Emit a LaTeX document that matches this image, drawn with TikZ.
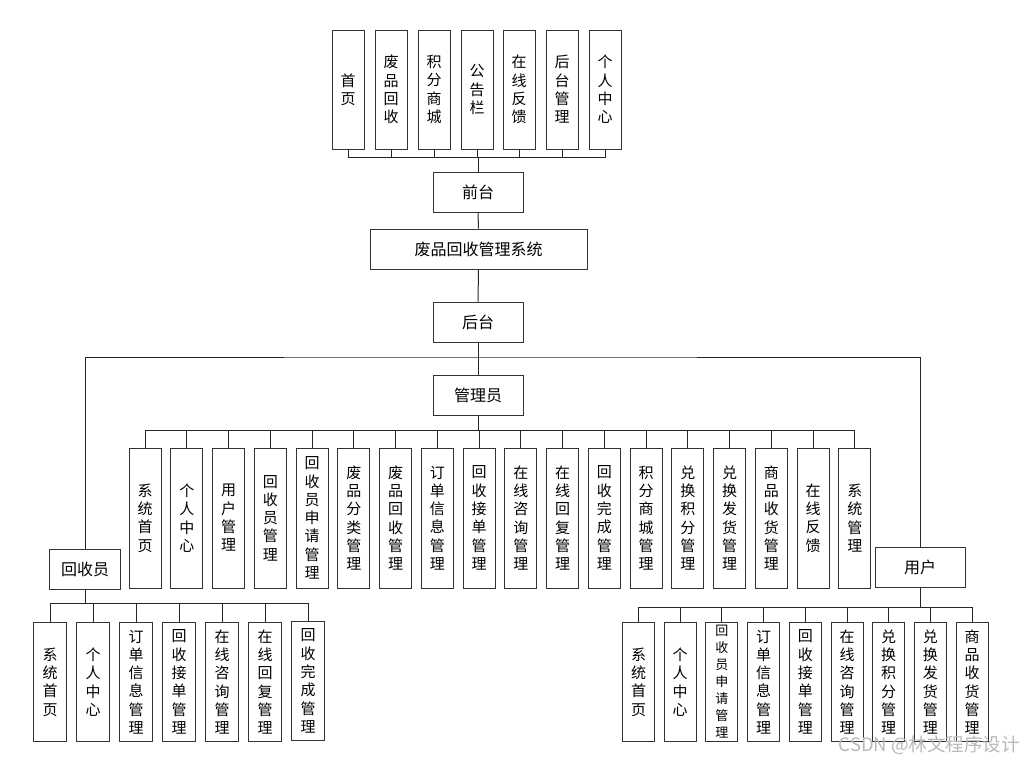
\documentclass[tikz,border=0pt]{standalone}
\usepackage{fontspec}
\newfontfamily\cjk{Noto Sans CJK SC}
\usepackage{tikz}

\begin{document}
\begin{tikzpicture}[
    x=1pt, y=-1pt,
    box/.style={draw=black!80, line width=1pt, align=center, inner sep=0pt, font=\cjk\fontsize{15}{18.3}\selectfont},
    hbox/.style={box, minimum width=90pt, minimum height=40pt, font=\cjk\fontsize{16}{18}\selectfont},
    vbox/.style={box, minimum width=32pt, minimum height=119pt},
    tallbox/.style={box, minimum width=32pt, minimum height=140pt},
    link/.style={black!85, line width=1pt}
]
\useasboundingbox (0,0) rectangle (1025,763);

% front end
\node[vbox] (f1) at (348,89.5) {首\\页};
\node[vbox] (f2) at (391,89.5) {废\\品\\回\\收};
\node[vbox] (f3) at (434,89.5) {积\\分\\商\\城};
\node[vbox] (f4) at (477,89.5) {公\\告\\栏};
\node[vbox] (f5) at (519,89.5) {在\\线\\反\\馈};
\node[vbox] (f6) at (562,89.5) {后\\台\\管\\理};
\node[vbox] (f7) at (605,89.5) {个\\人\\中\\心};
\node[hbox] (qt) at (478,192) {前台};
\node[hbox, minimum width=217pt] (sys) at (478.5,249) {废品回收管理系统};
\node[hbox] (ht) at (478,322) {后台};
\node[hbox] (gly) at (478,395) {管理员};
\node[hbox, minimum width=71pt] (hsy) at (85,569) {回收员};
\node[hbox] (yh) at (920,567) {用户};

% admin
\node[tallbox] (a1) at (145,518) {系\\统\\首\\页};
\node[tallbox] (a2) at (186.8,518) {个\\人\\中\\心};
\node[tallbox] (a3) at (228.5,518) {用\\户\\管\\理};
\node[tallbox] (a4) at (270.3,518) {回\\收\\员\\管\\理};
\node[tallbox] (a5) at (312,518) {回\\收\\员\\申\\请\\管\\理};
\node[tallbox] (a6) at (353.8,518) {废\\品\\分\\类\\管\\理};
\node[tallbox] (a7) at (395.6,518) {废\\品\\回\\收\\管\\理};
\node[tallbox] (a8) at (437.3,518) {订\\单\\信\\息\\管\\理};
\node[tallbox] (a9) at (479.1,518) {回\\收\\接\\单\\管\\理};
\node[tallbox] (a10) at (520.8,518) {在\\线\\咨\\询\\管\\理};
\node[tallbox] (a11) at (562.6,518) {在\\线\\回\\复\\管\\理};
\node[tallbox] (a12) at (604.4,518) {回\\收\\完\\成\\管\\理};
\node[tallbox] (a13) at (646.1,518) {积\\分\\商\\城\\管\\理};
\node[tallbox] (a14) at (687.9,518) {兑\\换\\积\\分\\管\\理};
\node[tallbox] (a15) at (729.6,518) {兑\\换\\发\\货\\管\\理};
\node[tallbox] (a16) at (771.4,518) {商\\品\\收\\货\\管\\理};
\node[tallbox] (a17) at (813.2,518) {在\\线\\反\\馈};
\node[tallbox] (a18) at (854.9,518) {系\\统\\管\\理};

% recycler
\node[vbox, minimum width=33pt] (r1) at (50,682) {系\\统\\首\\页};
\node[vbox, minimum width=33pt] (r2) at (93,682) {个\\人\\中\\心};
\node[vbox, minimum width=33pt] (r3) at (136,682) {订\\单\\信\\息\\管\\理};
\node[vbox, minimum width=33pt] (r4) at (179,682) {回\\收\\接\\单\\管\\理};
\node[vbox, minimum width=33pt] (r5) at (222,682) {在\\线\\咨\\询\\管\\理};
\node[vbox, minimum width=33pt] (r6) at (265,682) {在\\线\\回\\复\\管\\理};
\node[vbox, minimum width=33pt] (r7) at (308,681) {回\\收\\完\\成\\管\\理};

% user
\node[vbox] (u1) at (638.5,682) {系\\统\\首\\页};
\node[vbox] (u2) at (680.2,682) {个\\人\\中\\心};
\node[vbox, font=\cjk\fontsize{13}{17}\selectfont] (u3) at (721.9,682) {回\\收\\员\\申\\请\\管\\理};
\node[vbox] (u4) at (763.6,682) {订\\单\\信\\息\\管\\理};
\node[vbox] (u5) at (805.3,682) {回\\收\\接\\单\\管\\理};
\node[vbox] (u6) at (847,682) {在\\线\\咨\\询\\管\\理};
\node[vbox] (u7) at (888.7,682) {兑\\换\\积\\分\\管\\理};
\node[vbox] (u8) at (930.4,682) {兑\\换\\发\\货\\管\\理};
\node[vbox] (u9) at (972.1,682) {商\\品\\收\\货\\管\\理};

\node[font=\cjk\fontsize{18.5}{18.5}\selectfont, text=black!28, anchor=east, inner sep=0pt] (mark) at (1020,745) {CSDN @林文程序设计};

% connectors
\coordinate (fbus) at (478,157);
\coordinate (split) at (478,357);
\coordinate (abus) at (478,430);
\coordinate (rbus) at (85,603);
\coordinate (ubus) at (920,607);
\draw[link] (qt.north) -- (fbus);
\foreach \i in {1,...,7} \draw[link] (f\i.south) |- (fbus);
\draw[link] (qt.south) -- (sys.north);
\draw[link] (sys.south) -- (ht.north);
\draw[link] (ht.south) -- (gly.north);
\draw[link] (hsy.north) |- (split) -| (yh.north);
\draw[link] (gly.south) -- (abus);
\foreach \i in {1,...,18} \draw[link] (a\i.north) |- (abus);
\draw[link] (hsy.south) -- (rbus);
\foreach \i in {1,...,7} \draw[link] (r\i.north) |- (rbus);
\draw[link] (yh.south) -- (ubus);
\foreach \i in {1,...,9} \draw[link] (u\i.north) |- (ubus);
\end{tikzpicture}
\end{document}
